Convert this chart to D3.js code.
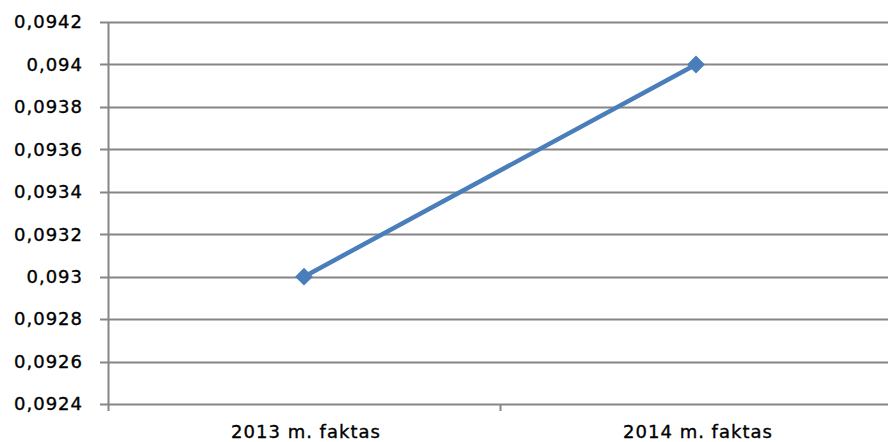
<!DOCTYPE html>
<html>
<head>
<meta charset="utf-8">
<script src="https://cdn.jsdelivr.net/npm/d3@7"></script>
<style>
  body { margin: 0; background: #fff; }
  text { font-family: "DejaVu Sans", Verdana, sans-serif; font-size: 18px; fill: #000; stroke: #000; stroke-width: 0.35px; letter-spacing: 1px; }
</style>
</head>
<body>
<svg id="chart" width="888" height="442"></svg>
<script>
// data
var categories = ["2013 m. faktas", "2014 m. faktas"];
var values = [0.0930, 0.0940];
var yTicks = [0.0924, 0.0926, 0.0928, 0.0930, 0.0932, 0.0934, 0.0936, 0.0938, 0.0940, 0.0942];

var svg = d3.select("#chart");
var plotLeft = 108, plotRight = 892, plotTop = 22, plotBottom = 404;
var gridColor = "#868686", lineColor = "#4a7ebb";

var x = d3.scaleBand().domain(categories).range([plotLeft, plotRight]);
var y = d3.scaleLinear().domain([0.0924, 0.0942]).range([plotBottom, plotTop]);

var fmt = function (v) { return (+v.toFixed(4)).toString().replace(".", ","); };

// horizontal grid + y tick marks
svg.append("g").selectAll("line").data(yTicks).enter().append("line")
    .attr("x1", plotLeft - 8).attr("x2", plotRight)
    .attr("y1", function (d) { return Math.round(y(d)) + 0.5; })
    .attr("y2", function (d) { return Math.round(y(d)) + 0.5; })
    .attr("stroke", gridColor).attr("stroke-width", 2);

svg.append("g").selectAll("text").data(yTicks).enter().append("text")
    .attr("x", 83).attr("y", function (d) { return y(d); })
    .attr("dy", "0.35em").attr("text-anchor", "end")
    .text(fmt);

// vertical axis line
svg.append("line")
    .attr("x1", plotLeft + 0.5).attr("x2", plotLeft + 0.5)
    .attr("y1", plotTop).attr("y2", plotBottom + 7)
    .attr("stroke", gridColor).attr("stroke-width", 2);

// x category ticks
var bounds = [plotLeft + x.bandwidth(), plotRight];
svg.append("g").selectAll("line").data(bounds).enter().append("line")
    .attr("x1", function (d) { return d + 0.5; }).attr("x2", function (d) { return d + 0.5; })
    .attr("y1", plotBottom).attr("y2", plotBottom + 7)
    .attr("stroke", gridColor).attr("stroke-width", 2);

svg.append("g").selectAll("text").data(categories).enter().append("text")
    .attr("x", function (d) { return x(d) + x.bandwidth() / 2 + 2; })
    .attr("y", 438).attr("text-anchor", "middle")
    .text(function (d) { return d; });

// series line
var pts = categories.map(function (c, i) { return [x(c) + x.bandwidth() / 2, y(values[i])]; });
svg.append("path")
    .attr("d", d3.line()(pts))
    .attr("fill", "none").attr("stroke", lineColor).attr("stroke-width", 4.5)
    .attr("stroke-linecap", "round");

svg.append("g").selectAll("path").data(pts).enter().append("path")
    .attr("d", d3.symbol().type(d3.symbolSquare).size(160))
    .attr("transform", function (d) { return "translate(" + d[0] + "," + d[1] + ") rotate(45)"; })
    .attr("fill", lineColor);
</script>
</body>
</html>
